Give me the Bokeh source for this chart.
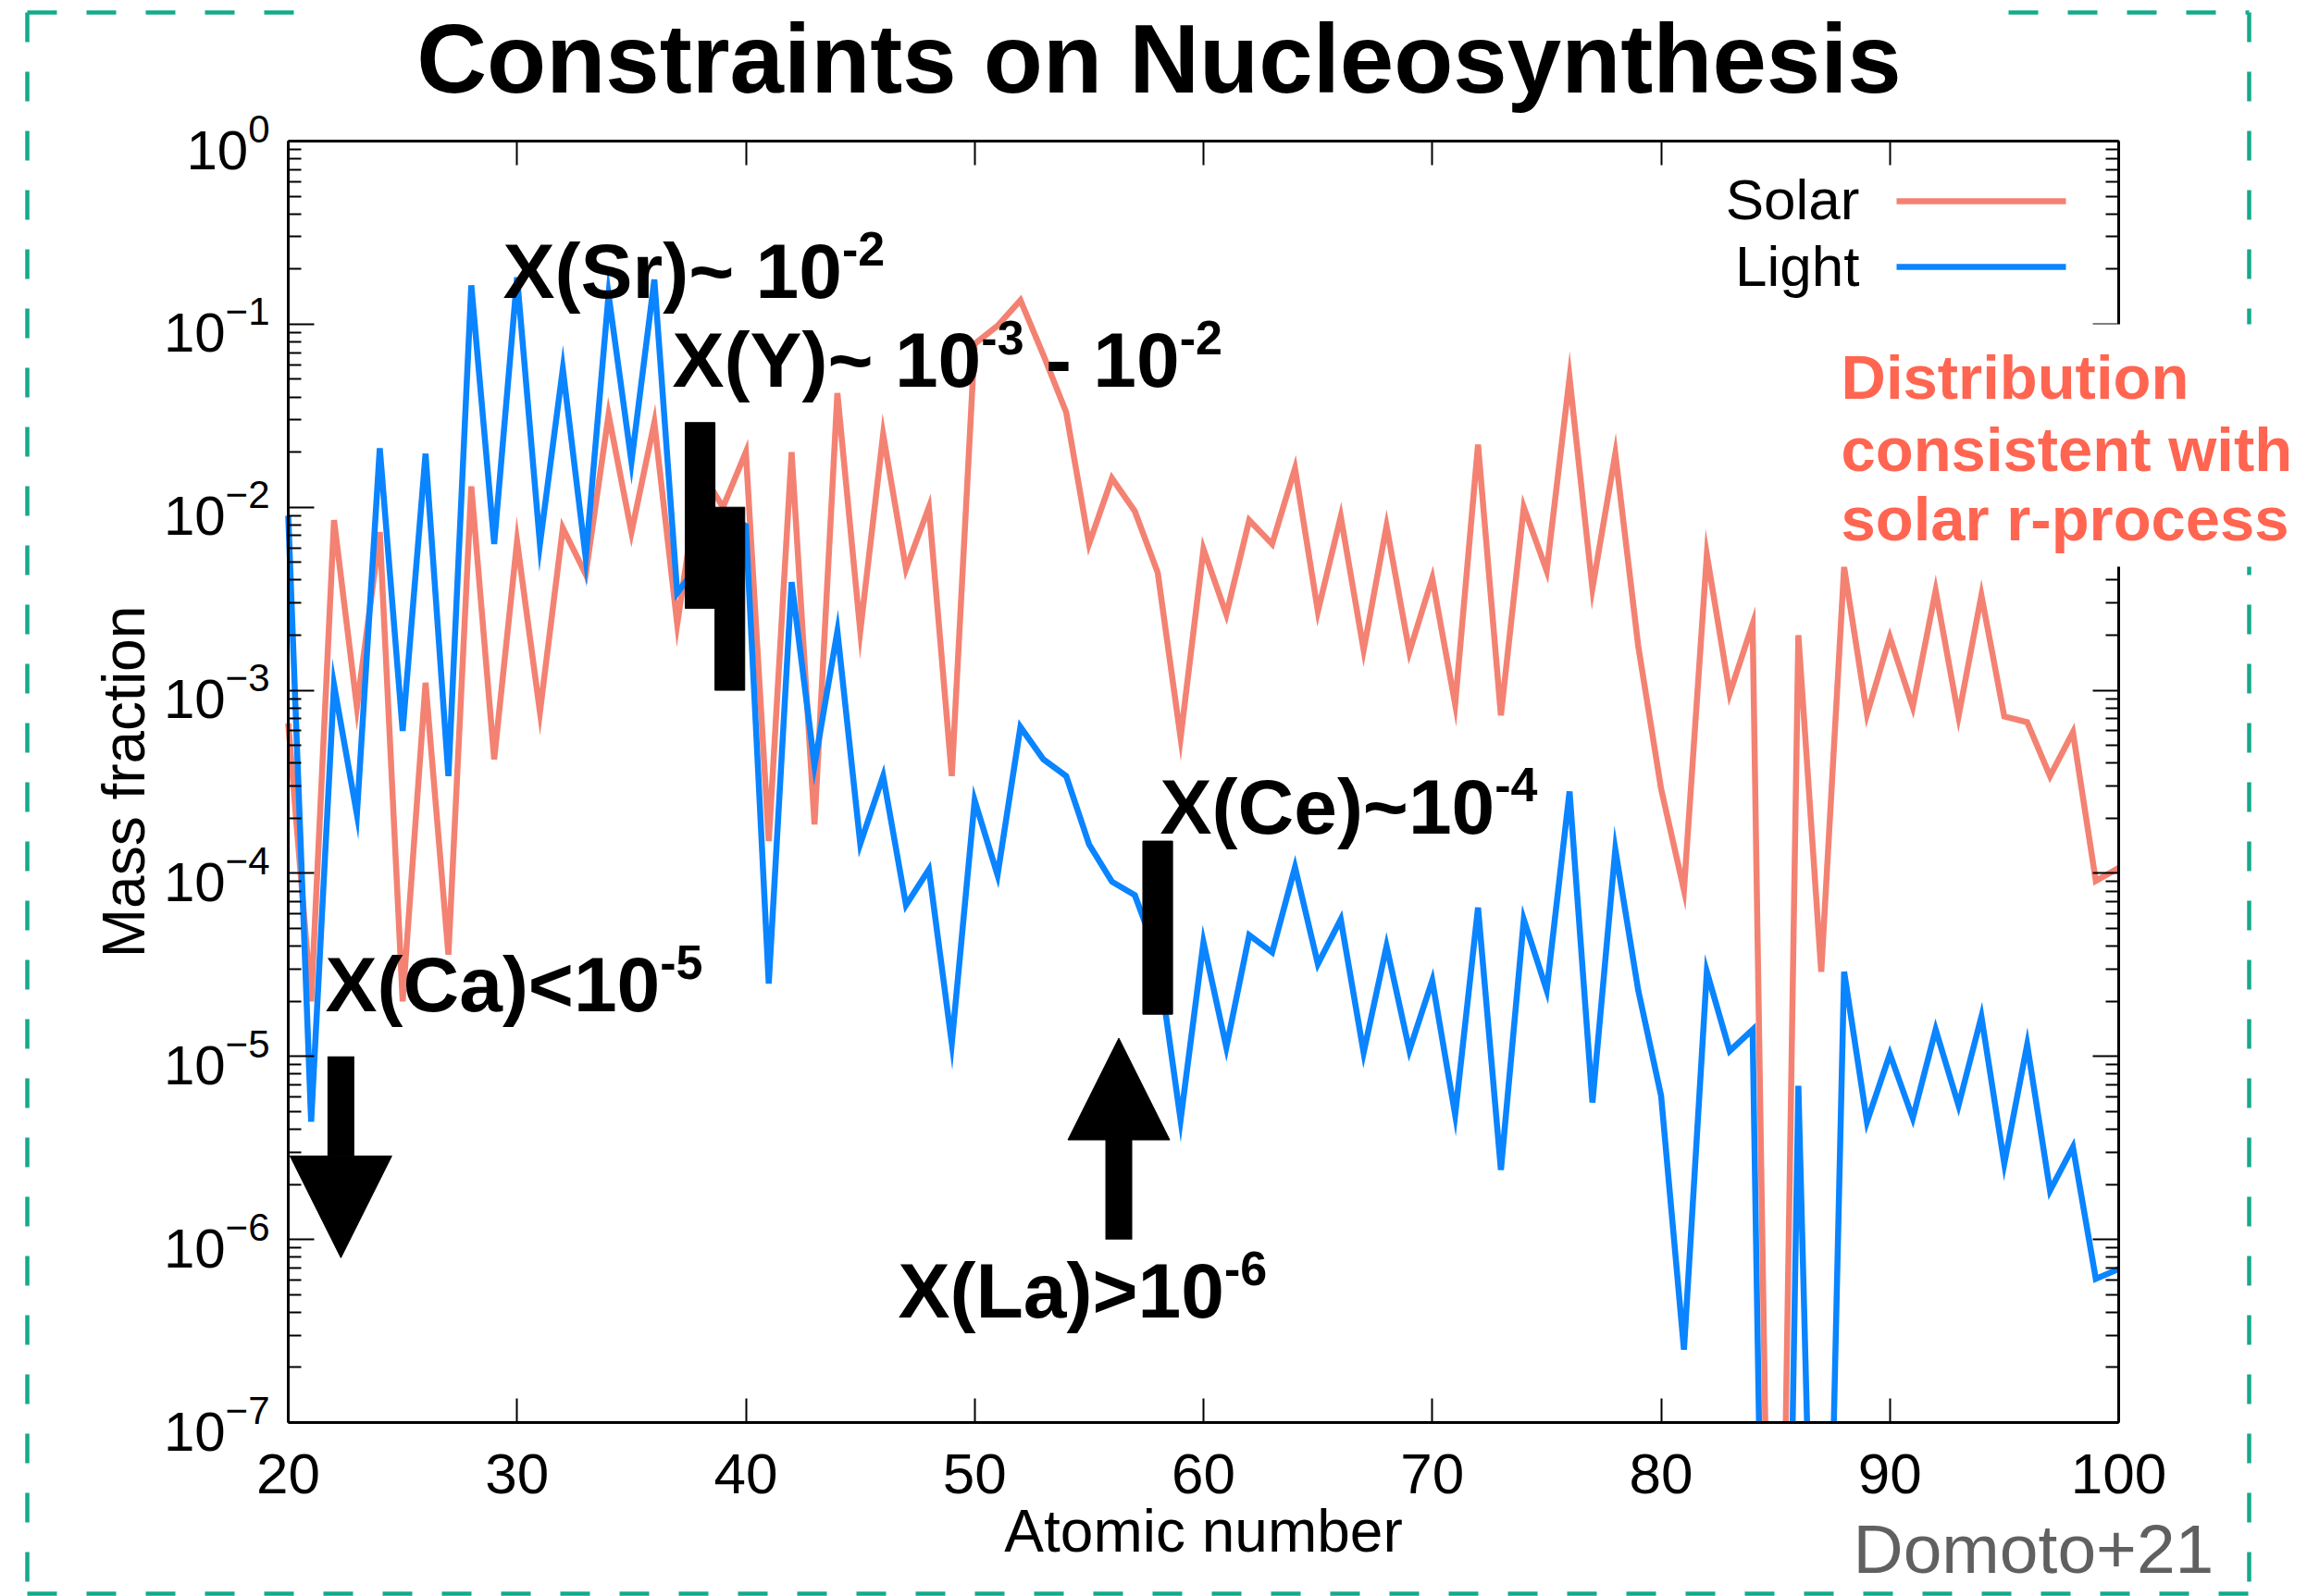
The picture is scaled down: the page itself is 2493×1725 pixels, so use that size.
from bokeh.plotting import figure
from bokeh.models import (Label, Arrow, NormalHead, BoxAnnotation, LogAxis, LinearAxis,
                          FixedTicker, CustomJSTickFormatter, LogTickFormatter, Range1d)
from bokeh.embed import file_html
from bokeh.resources import INLINE

# ---------------------------------------------------------------- data
atomic_number = list(range(20, 101))

solar = [
    6.6e-4, 2.0e-5, 8.5e-3, 8.1e-4, 7.3e-3, 2.0e-5, 1.1e-3, 3.6e-5, 1.3e-2, 4.2e-4,   # 20-29
    6.5e-3, 7.6e-4, 7.7e-3, 4.3e-3, 3.2e-2, 7.3e-3, 2.9e-2, 2.3e-3, 1.6e-2, 1.0e-2,   # 30-39
    2.0e-2, 1.5e-4, 2.0e-2, 1.85e-4, 4.2e-2, 2.1e-3, 2.5e-2, 4.6e-3, 1.0e-2, 3.4e-4,  # 40-49
    7.8e-2, 9.8e-2, 1.35e-1, 6.8e-2, 3.3e-2, 6.3e-3, 1.44e-2, 9.5e-3, 4.4e-3, 5.5e-4, # 50-59
    5.9e-3, 2.6e-3, 8.5e-3, 6.3e-3, 1.63e-2, 2.7e-3, 8.9e-3, 1.66e-3, 7.9e-3, 1.62e-3,# 60-69
    4.1e-3, 8.4e-4, 2.2e-2, 7.3e-4, 1.0e-2, 4.5e-3, 5.1e-2, 3.6e-3, 1.96e-2, 1.75e-3, # 70-79
    2.9e-4, 8.1e-5, 5.5e-3, 9.6e-4, 2.3e-3, 3.0e-11, 2.0e-3, 2.9e-5, 4.7e-3, 7.4e-4,  # 80-89
    1.95e-3, 8.1e-4, 3.5e-3, 7.2e-4, 3.3e-3, 7.2e-4, 6.7e-4, 3.4e-4, 5.9e-4, 9.1e-5,  # 90-99
    1.07e-4,                                                                          # 100
]

light = [
    9.0e-3, 4.4e-6, 1.07e-3, 2.1e-4, 2.1e-2, 6.0e-4, 1.96e-2, 3.4e-4, 1.63e-1, 6.3e-3, # 20-29
    1.8e-1, 6.3e-3, 5.7e-2, 5.3e-3, 1.45e-1, 1.77e-2, 1.75e-1, 3.4e-3, 5.0e-3, 9.0e-3, # 30-39
    7.9e-3, 2.5e-5, 3.9e-3, 3.9e-4, 2.1e-3, 1.45e-4, 3.4e-4, 6.7e-5, 1.05e-4, 1.18e-5, # 40-49
    2.5e-4, 9.8e-5, 6.3e-4, 4.2e-4, 3.4e-4, 1.44e-4, 9.0e-5, 7.6e-5, 3.5e-5, 4.5e-6,   # 50-59
    4.2e-5, 1.12e-5, 4.6e-5, 3.7e-5, 1.08e-4, 3.2e-5, 5.6e-5, 1.05e-5, 4.0e-5, 1.08e-5,# 60-69
    2.6e-5, 4.8e-6, 6.5e-5, 2.4e-6, 5.6e-5, 2.3e-5, 2.8e-4, 5.6e-6, 1.35e-4, 2.3e-5,   # 70-79
    6.1e-6, 2.5e-7, 2.9e-5, 1.07e-5, 1.4e-5, 3.0e-13, 6.9e-6, 1.0e-10, 2.9e-5, 4.4e-6, # 80-89
    1.03e-5, 4.6e-6, 1.4e-5, 5.4e-6, 1.65e-5, 2.6e-6, 1.16e-5, 1.85e-6, 3.2e-6, 6.1e-7,# 90-99
    6.9e-7,                                                                            # 100
]

# observational constraints: ranges (Sr, Y, Ce) and limits (Ca upper, La lower)
band_z = [38.0, 39.3, 58.0]
band_lo = [2.8e-3, 1.0e-3, 1.7e-5]
band_hi = [2.9e-2, 1.0e-2, 1.5e-4]
limit_z = [22.3, 56.3]
limit_value = [1e-5, 1e-6]
limit_direction = [-1, 1]

x_ticks = [20, 30, 40, 50, 60, 70, 80, 90, 100]

# ---------------------------------------------------------------- layout constants
SALMON = "#F38273"
BLUE = "#0A84FF"
RED_TEXT = "#FF6550"
TEAL = "#14AA8C"
FONT = "Liberation Sans"

W, H = 2493, 1725
FL, FR, FT, FB = 311, 2289, 152, 1537          # where the axes box sits on the canvas
X0, X1 = 20, 100
LOG_TOP, LOG_BOT = 0, -7
BASELINE_SHIFT = 0.35                          # alphabetic-baseline correction, in em


def dx(px):
    """canvas pixel column -> atomic number"""
    return X0 + (px - FL) * (X1 - X0) / (FR - FL)


def dy(py):
    """canvas pixel row -> mass fraction"""
    return 10 ** (LOG_TOP - (py - FT) * (LOG_TOP - LOG_BOT) / (FB - FT))


# Liberation Sans Bold advance widths (1/1000 em)
BOLD_W = {" ": 278, "(": 333, ")": 333, "-": 333, "<": 584, ">": 584, "~": 584,
          "C": 722, "L": 611, "S": 667, "X": 667, "Y": 667,
          "a": 556, "e": 556, "r": 389}


def text_width(s, size):
    return sum(BOLD_W.get(c, 556) for c in s) * size / 1000.0


# the frame spans the whole canvas; the axes are pinned at the data box edges
p = figure(width=W, height=H, x_range=Range1d(dx(0), dx(W)), y_range=Range1d(dy(H), dy(0)),
           y_axis_type="log", output_backend="svg", toolbar_location=None, min_border=0)
p.grid.visible = False
p.outline_line_color = None
p.background_fill_color = "white"
p.border_fill_color = "white"

major_y = [10.0 ** e for e in range(LOG_BOT, LOG_TOP + 1)]
minor_y = [m * 10.0 ** e for e in range(LOG_BOT, LOG_TOP) for m in range(2, 10)]


def style_axis(ax, major_in, minor_in):
    ax.axis_line_width = 3
    ax.axis_line_color = "black"
    ax.major_tick_in = major_in
    ax.major_tick_out = 0
    ax.minor_tick_in = minor_in
    ax.minor_tick_out = 0
    ax.major_tick_line_width = 2
    ax.minor_tick_line_width = 2
    ax.major_label_text_font = FONT
    ax.major_label_text_color = "black"
    ax.axis_label_text_font = FONT
    ax.axis_label_text_font_style = "normal"
    ax.axis_label_text_color = "black"


# ---------------------------------------------------------------- curves
p.line(atomic_number, solar, line_color=SALMON, line_width=6.5, line_join="miter")
p.line(atomic_number, light, line_color=BLUE, line_width=6.5, line_join="miter")

# keep the curves from running below the x axis
p.quad(left=[dx(0)], right=[dx(W)], bottom=[dy(H)], top=[10.0 ** LOG_BOT],
       fill_color="white", line_color=None)

# range constraints as solid bars
BAND_HALF = 0.65
p.quad(left=[z - BAND_HALF for z in band_z], right=[z + BAND_HALF for z in band_z],
       bottom=band_lo, top=band_hi, fill_color="black", line_color="black")

# ---------------------------------------------------------------- axes
xa = p.xaxis[0]
xa.fixed_location = 10.0 ** LOG_BOT
xa.bounds = (X0, X1)
xa.ticker = FixedTicker(ticks=x_ticks)
style_axis(xa, 26, 0)
xa.minor_tick_line_color = None
xa.major_label_text_font_size = "62px"
xa.major_label_standoff = 34
xa.axis_label = "Atomic number"
xa.axis_label_text_font_size = "64px"
xa.axis_label_standoff = 2

ya = p.yaxis[0]
ya.fixed_location = X0
ya.bounds = (10.0 ** LOG_BOT, 10.0 ** LOG_TOP)
ya.ticker = FixedTicker(ticks=major_y, minor_ticks=minor_y)
ya.formatter = LogTickFormatter()
style_axis(ya, 28, 14)
ya.major_label_text_font_size = "60px"
ya.major_label_standoff = 20
ya.axis_label = "Mass fraction"
ya.axis_label_text_font_size = "64px"
ya.axis_label_standoff = 4

blank = CustomJSTickFormatter(code="return ''")
right_axis = LogAxis(ticker=FixedTicker(ticks=major_y, minor_ticks=minor_y), formatter=blank,
                     fixed_location=X1, bounds=(10.0 ** LOG_BOT, 10.0 ** LOG_TOP))
style_axis(right_axis, 28, 14)
p.add_layout(right_axis, "right")
top_axis = LinearAxis(ticker=FixedTicker(ticks=x_ticks), formatter=blank,
                      fixed_location=10.0 ** LOG_TOP, bounds=(X0, X1))
style_axis(top_axis, 26, 0)
top_axis.minor_tick_line_color = None
p.add_layout(top_axis, "above")

# limit arrows, starting at the quoted limit
ARROW_DECADES = 1.1
for z, v, d in zip(limit_z, limit_value, limit_direction):
    p.add_layout(Arrow(x_start=z, y_start=v, x_end=z, y_end=v * 10 ** (d * ARROW_DECADES),
                       line_width=29, line_color="black",
                       end=NormalHead(size=110, fill_color="black", line_color="black",
                                      line_width=1)))


# ---------------------------------------------------------------- annotations
def text_at(txt, left_px, base_px, size, color="black", bold=False, align="left"):
    p.add_layout(Label(x=dx(left_px), y=dy(base_px - BASELINE_SHIFT * size), text=txt,
                       text_font=FONT, text_font_style="bold" if bold else "normal",
                       text_font_size=f"{size}px", text_color=color, text_align=align,
                       text_baseline="alphabetic"))


MAIN_FS, SUP_FS, SUP_RAISE = 84, 52, 24


def rich_label(parts, left_px, base_px):
    x = left_px
    for txt, sup in parts:
        fs = SUP_FS if sup else MAIN_FS
        stripped = txt.lstrip(" ")
        x += text_width(txt[:len(txt) - len(stripped)], fs)
        y = base_px - SUP_RAISE if sup else base_px
        p.add_layout(Label(x=dx(x), y=dy(y - BASELINE_SHIFT * MAIN_FS), text=stripped,
                           text_font=FONT, text_font_style="bold", text_font_size=f"{fs}px",
                           text_color="black", text_align="left", text_baseline="alphabetic"))
        x += text_width(stripped, fs)


rich_label([("X(Sr)~ 10", False), ("-2", True)], 543, 322)
rich_label([("X(Y)~ 10", False), ("-3", True), (" - 10", False), ("-2", True)], 726, 418)
rich_label([("X(Ca)<10", False), ("-5", True)], 351, 1093)
rich_label([("X(La)>10", False), ("-6", True)], 970, 1424)
rich_label([("X(Ce)~10", False), ("-4", True)], 1253, 901)

# legend: label on the left, sample line on the right
for name, color, base_px, line_px in [("Solar", SALMON, 237, 217), ("Light", BLUE, 309, 288)]:
    text_at(name, 2009, base_px, 62, align="right")
    p.add_layout(Arrow(x_start=dx(2049), y_start=dy(line_px), x_end=dx(2232), y_end=dy(line_px),
                       line_color=color, line_width=6.5, end=None))

# dashed frame around the whole panel (open at the title)
FRAME_SEGMENTS = [((29, 13), (29, 1722)), ((2430, 13), (2430, 1722)),
                  ((29, 1722), (2430, 1722)), ((29, 13), (318, 13)), ((2170, 13), (2430, 13))]
for (xa_, ya_), (xb_, yb_) in FRAME_SEGMENTS:
    p.add_layout(Arrow(x_start=dx(xa_), y_start=dy(ya_), x_end=dx(xb_), y_end=dy(yb_),
                       line_color=TEAL, line_width=4.5, line_dash="32 32", end=None))

# note on the right, on a white patch
p.add_layout(BoxAnnotation(left=dx(1975), right=dx(W), top=dy(350), bottom=dy(612),
                           fill_color="white", fill_alpha=1.0, line_color=None))
for txt, base_px in [("Distribution", 430), ("consistent with", 508), ("solar r-process", 583)]:
    text_at(txt, 1989, base_px, 67, color=RED_TEXT, bold=True)

text_at("Constraints on Nucleosynthesis", 1252, 100, 105, bold=True, align="center")
text_at("Domoto+21", 2002, 1700, 75, color="#606060")

open("out.html", "w").write(file_html(p, INLINE))
